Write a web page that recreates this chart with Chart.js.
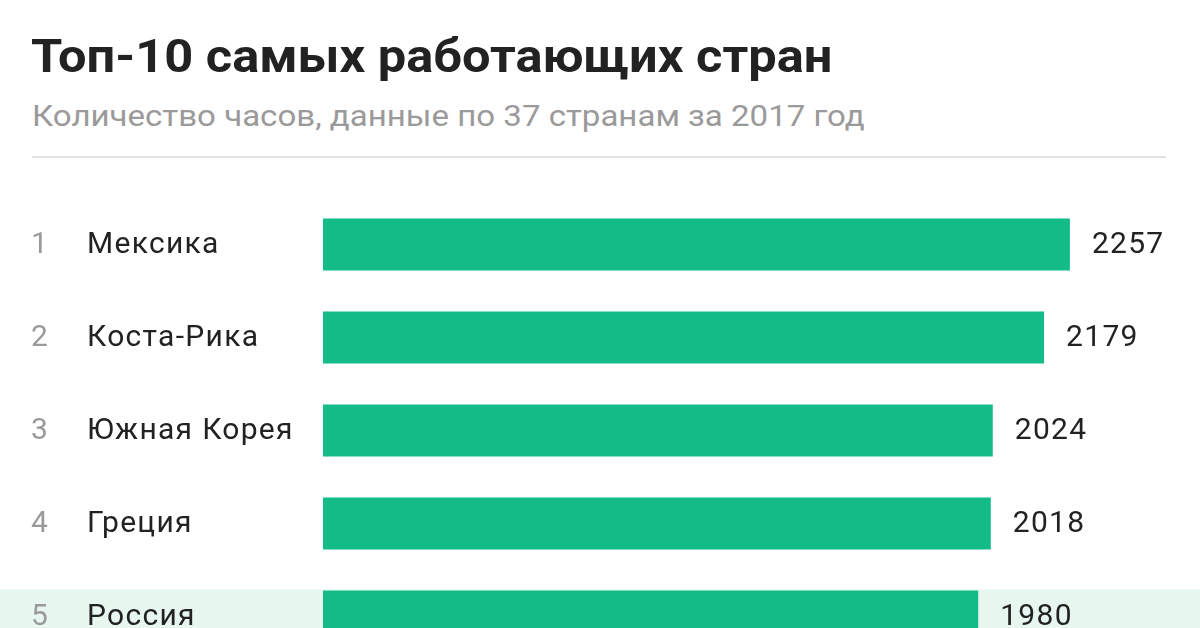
<!DOCTYPE html>
<html>
<head>
<meta charset="utf-8">
<script src="https://cdn.jsdelivr.net/npm/chart.js@4"></script>
<style>
  html, body { margin: 0; padding: 0; background: #fff; overflow: hidden; }
  body { width: 1200px; height: 628px; position: relative; font-family: Roboto, sans-serif; }
  #title { position: absolute; left: 31px; top: 28px; font-size: 47px; font-weight: 700; color: #222; white-space: nowrap;
           transform: scaleX(1.076); transform-origin: left top; }
  #subtitle { position: absolute; left: 32px; top: 99px; font-size: 29.5px; color: #9a9a9a; white-space: nowrap;
              transform: scaleX(1.12); transform-origin: left top; }
  #rule { position: absolute; left: 32px; top: 156px; width: 1134px; height: 2px; background: #e2e2e2; }
  #wrap { position: absolute; left: 0; top: 198px; width: 1200px; height: 465px; }
</style>
</head>
<body>
<div id="title">Топ-10 самых работающих стран</div>
<div id="subtitle">Количество часов, данные по 37 странам за 2017 год</div>
<div id="rule"></div>
<div id="wrap"><canvas id="chart"></canvas></div>
<script>
// data (only the rows visible in the picture)
const ranks = [1, 2, 3, 4, 5];
const countries = ['Мексика', 'Коста-Рика', 'Южная Корея', 'Греция', 'Россия'];
const hours = [2257, 2179, 2024, 2018, 1980];
const highlighted = 'Россия';

const barColor = '#13bc87';
const rowColor = '#e7f7f0';

// light green band behind the highlighted row
const rowBand = {
  id: 'rowBand',
  beforeDatasetsDraw(chart) {
    const ctx = chart.ctx;
    const meta = chart.getDatasetMeta(0);
    meta.data.forEach((bar, i) => {
      if (countries[i] !== highlighted) return;
      const h = bar.height;
      ctx.save();
      ctx.fillStyle = rowColor;
      ctx.fillRect(0, bar.y - h / 2 - 1, chart.width, h + 30);
      ctx.restore();
    });
  }
};

// rank, country name and value next to each bar
const rowLabels = {
  id: 'rowLabels',
  afterDatasetsDraw(chart) {
    const ctx = chart.ctx;
    const meta = chart.getDatasetMeta(0);
    ctx.save();
    ctx.font = '30px Roboto, sans-serif';
    ctx.letterSpacing = '1.3px';
    ctx.textBaseline = 'middle';
    meta.data.forEach((bar, i) => {
      ctx.fillStyle = '#9a9a9a';
      ctx.textAlign = 'left';
      ctx.fillText(ranks[i], 31, bar.y + 1);
      ctx.fillStyle = '#222';
      ctx.fillText(countries[i], 87, bar.y + 1);
      ctx.fillText(hours[i], bar.x + 22, bar.y + 1);
    });
    ctx.restore();
  }
};

new Chart(document.getElementById('chart'), {
  type: 'bar',
  data: {
    labels: countries,
    datasets: [{
      data: hours,
      backgroundColor: barColor,
      borderWidth: 0,
      barPercentage: 0.56,
      categoryPercentage: 1
    }]
  },
  options: {
    indexAxis: 'y',
    responsive: true,
    maintainAspectRatio: false,
    animation: false,
    layout: { padding: { left: 323, right: 10, top: 0, bottom: 0 } },
    scales: {
      x: { display: false, min: 0, max: 2620 },
      y: { display: false }
    },
    plugins: {
      legend: { display: false },
      tooltip: { enabled: false }
    }
  },
  plugins: [rowBand, rowLabels]
});
</script>
</body>
</html>
